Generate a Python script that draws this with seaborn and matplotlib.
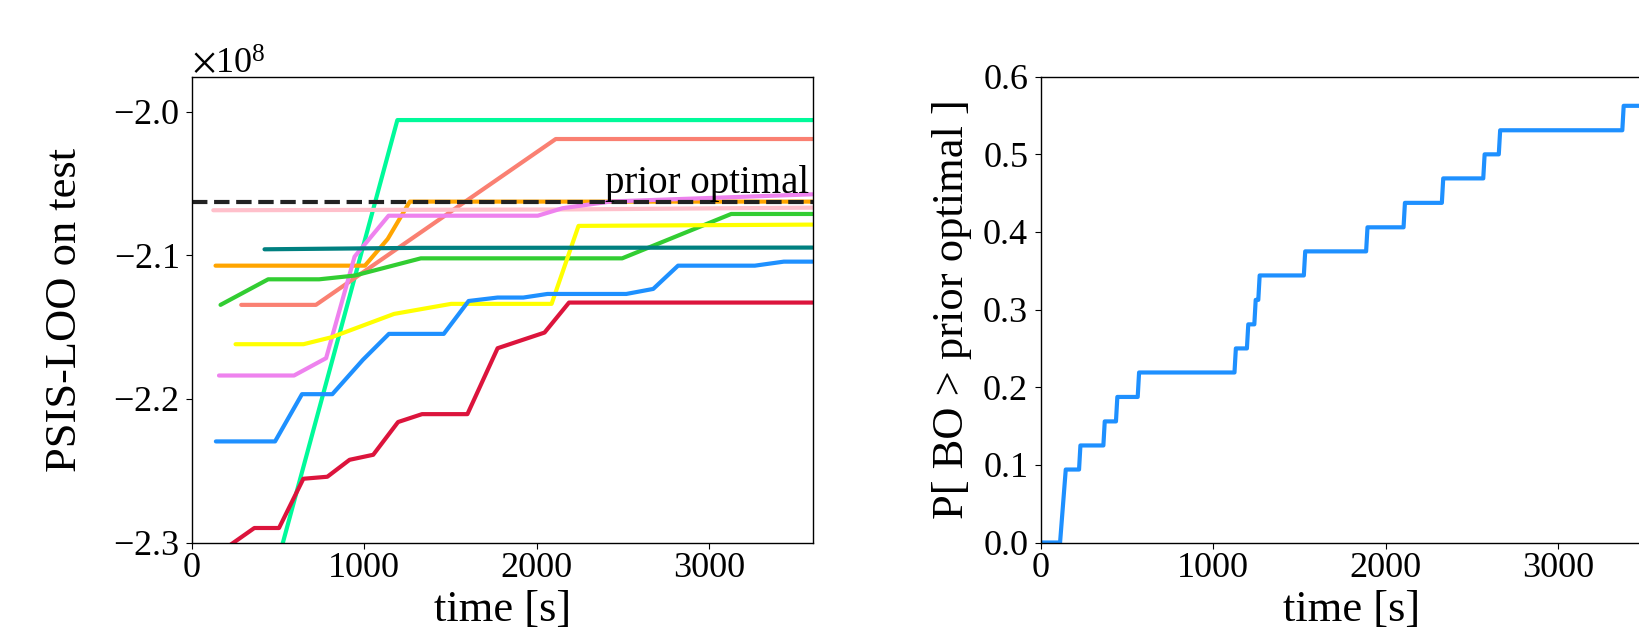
import pandas as pd
import matplotlib
matplotlib.use("Agg")
import matplotlib.pyplot as plt
import seaborn as sns

# PSIS-LOO on test (x 1e8) vs time [s], one run per colour
green_t = [160, 1193, 3600]
green_v = [-2.464, -2.0058, -2.0058]
salmon_t = [288, 721, 2111, 3600]
salmon_v = [-2.1345, -2.1345, -2.019, -2.019]
orange_t = [139, 1005, 1137, 1265, 3600]
orange_v = [-2.1072, -2.1072, -2.0886, -2.0626, -2.0626]
pink_t = [126, 2100, 3600]
pink_v = [-2.0686, -2.0681, -2.0668]
violet_t = [159, 594, 780, 945, 1142, 2007, 2150, 2430, 2900, 3600]
violet_v = [-2.1837, -2.1837, -2.1716, -2.1009, -2.0724, -2.0724, -2.0672, -2.0625, -2.0605, -2.0575]
lime_t = [168, 444, 740, 945, 1329, 2496, 3128, 3600]
lime_v = [-2.1345, -2.1167, -2.1167, -2.1141, -2.1021, -2.1021, -2.0712, -2.0712]
yellow_t = [255, 649, 813, 1174, 1505, 2087, 2243, 3600]
yellow_v = [-2.1619, -2.1619, -2.157, -2.1408, -2.1338, -2.1338, -2.0795, -2.0786]
teal_t = [423, 1300, 3600]
teal_v = [-2.0958, -2.0948, -2.0946]
blue_t = [141, 484, 640, 816, 993, 1144, 1462, 1606, 1774, 1923, 2063, 2520, 2676, 2820, 3265, 3433, 3600]
blue_v = [-2.2296, -2.2296, -2.1967, -2.1967, -2.1728, -2.1547, -2.1547, -2.1318, -2.1294,
          -2.1294, -2.1269, -2.1269, -2.1234, -2.1072, -2.1072, -2.1044, -2.1044]
crimson_t = [150, 364, 507, 648, 787, 916, 1053, 1197, 1336, 1599, 1774, 2046, 2188, 3600]
crimson_v = [-2.308, -2.2899, -2.2899, -2.2556, -2.2542, -2.2424, -2.2389, -2.2161, -2.2106,
             -2.2106, -2.1647, -2.1538, -2.1329, -2.1329]
prior_optimal = -2.0626

# P[ BO > prior optimal ] vs time [s]
bo_time = [0, 112, 145, 222, 230, 363, 371, 436, 444, 562, 570, 1123, 1131, 1195, 1203, 1238, 1246,
           1261, 1269, 1525, 1533, 1886, 1894, 2103, 2111, 2325, 2333, 2565, 2573, 2655, 2663, 3371,
           3379, 3600]
bo_prob = [0, 0, 0.094, 0.094, 0.125, 0.125, 0.156, 0.156, 0.1875, 0.1875, 0.219, 0.219, 0.25, 0.25,
           0.281, 0.281, 0.3125, 0.3125, 0.344, 0.344, 0.375, 0.375, 0.406, 0.406, 0.4375, 0.4375,
           0.469, 0.469, 0.5, 0.5, 0.531, 0.531, 0.5625, 0.5625]

runs = [
    ("mediumspringgreen", green_t, green_v),
    ("salmon", salmon_t, salmon_v),
    ("orange", orange_t, orange_v),
    ("pink", pink_t, pink_v),
    ("violet", violet_t, violet_v),
    ("limegreen", lime_t, lime_v),
    ("yellow", yellow_t, yellow_v),
    ("teal", teal_t, teal_v),
    ("dodgerblue", blue_t, blue_v),
    ("crimson", crimson_t, crimson_v),
]

sns.set_style("ticks", {"axes.edgecolor": "black", "xtick.color": "black", "ytick.color": "black",
                        "text.color": "black", "axes.labelcolor": "black"})
plt.rcParams["font.family"] = ["Liberation Serif", "DejaVu Serif"]
plt.rcParams["mathtext.fontset"] = "stix"
plt.rcParams["xtick.major.size"] = 4.5
plt.rcParams["ytick.major.size"] = 4.5

fig = plt.figure(figsize=(16.4, 6.36), dpi=100)
ax1 = fig.add_axes([0.1168, 0.147, 0.3787, 0.7324])
ax2 = fig.add_axes([0.6346, 0.147, 0.3787, 0.7324])

# left panel
frames = []
for color, t, v in runs:
    frames.append(pd.DataFrame({"time": t, "loo": [x * 1e8 for x in v], "run": color}))
df = pd.concat(frames, ignore_index=True)
sns.lineplot(data=df, x="time", y="loo", hue="run", palette={c: c for c, _, _ in runs},
             estimator=None, sort=False, lw=3, legend=False, ax=ax1)
ax1.axhline(prior_optimal * 1e8, color="#222222", ls="--", lw=3)
ax1.text(3580, prior_optimal * 1e8, "prior optimal", ha="right", va="bottom", fontsize=28)

ax1.set_xlim(0, 3600)
ax1.set_ylim(-2.3e8, -1.9756e8)
ax1.set_xticks([0, 1000, 2000, 3000])
ax1.set_yticks([-2.3e8, -2.2e8, -2.1e8, -2.0e8])
ax1.ticklabel_format(axis="y", style="sci", scilimits=(0, 0), useMathText=True)
ax1.yaxis.get_offset_text().set_fontsize(26)
ax1.set_xlabel("time [s]", fontsize=32)
ax1.set_ylabel("PSIS-LOO on test", fontsize=32)
ax1.yaxis.set_label_coords(-0.172, 0.5)

# right panel
sns.lineplot(x=bo_time, y=bo_prob, color="dodgerblue", lw=3, estimator=None, sort=False, ax=ax2)
ax2.set_xlim(0, 3600)
ax2.set_ylim(0, 0.6)
ax2.set_xticks([0, 1000, 2000, 3000])
ax2.set_yticks([0.0, 0.1, 0.2, 0.3, 0.4, 0.5, 0.6])
ax2.set_xlabel("time [s]", fontsize=32)
ax2.set_ylabel("P[ BO > prior optimal ]", fontsize=32)
ax2.yaxis.set_label_coords(-0.11, 0.5)

for ax in (ax1, ax2):
    for s in ax.spines.values():
        s.set_visible(True)
        s.set_linewidth(1.0)
    ax.tick_params(axis="both", labelsize=26)
    ax.tick_params(axis="x", pad=2)
    ax.tick_params(axis="y", pad=4.5)

fig.savefig("out.png", dpi=100)
